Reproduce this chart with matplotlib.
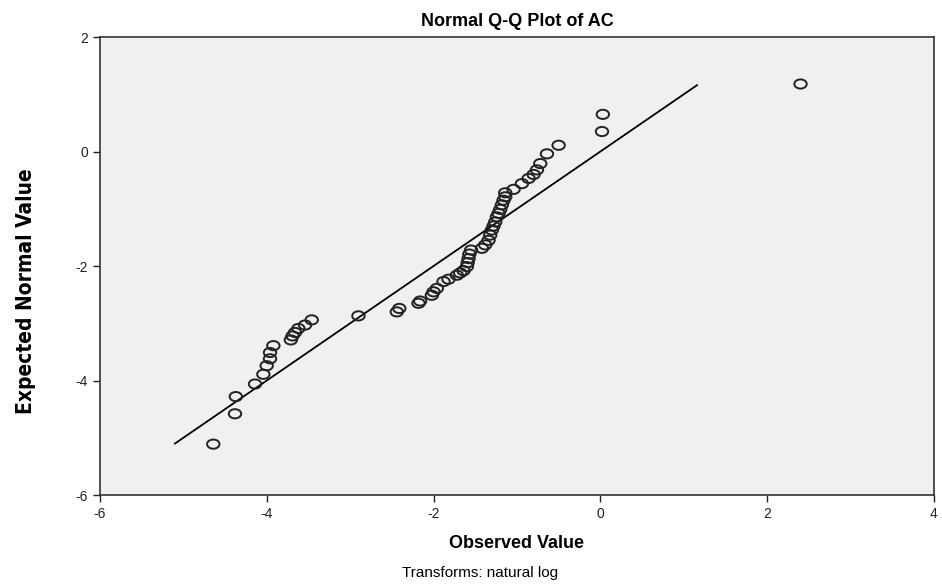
# Normal Q-Q plot (SPSS style)

import matplotlib.pyplot as plt
from matplotlib.path import Path
from matplotlib.transforms import Affine2D

# valores observados (log) e valores normais esperados
observado = [-4.64, -4.38, -4.37, -4.14, -4.04, -4.00, -3.96, -3.96, -3.92,
             -3.71, -3.69, -3.66, -3.62, -3.54, -3.46, -2.90, -2.44, -2.41,
             -2.18, -2.16, -2.02, -2.00, -1.96, -1.88, -1.82, -1.72, -1.68,
             -1.64, -1.60, -1.59, -1.58, -1.57, -1.55, -1.42, -1.38, -1.34,
             -1.32, -1.30, -1.28, -1.26, -1.24, -1.22, -1.20, -1.18, -1.16,
             -1.14, -1.14, -1.04, -0.94, -0.86, -0.80, -0.76, -0.72, -0.64,
             -0.50, 0.02, 0.03, 2.40]
esperado = [-5.11, -4.58, -4.28, -4.06, -3.89, -3.74, -3.62, -3.51, -3.39,
            -3.29, -3.22, -3.16, -3.09, -3.03, -2.94, -2.87, -2.80, -2.74,
            -2.65, -2.61, -2.51, -2.45, -2.39, -2.27, -2.23, -2.16, -2.12,
            -2.08, -2.01, -1.94, -1.87, -1.79, -1.72, -1.69, -1.63, -1.55,
            -1.46, -1.37, -1.30, -1.23, -1.14, -1.08, -1.01, -0.93, -0.85,
            -0.79, -0.72, -0.66, -0.56, -0.47, -0.40, -0.32, -0.21, -0.04,
            0.11, 0.35, 0.65, 1.18]

# linha de referencia
linha_x = [-5.1, 1.16]
linha_y = [-5.1, 1.16]

xticks = [-6, -4, -2, 0, 2, 4]
yticks = [-6, -4, -2, 0, 2]

plt.rcParams['font.family'] = ['Liberation Sans', 'DejaVu Sans']
plt.rcParams['axes.unicode_minus'] = False

fig = plt.figure(figsize=(9.42, 5.88), dpi=100)
ax = fig.add_axes([0.106, 0.158, 0.8855, 0.779])
ax.set_facecolor('#f0f0f0')

# circulo achatado (igual ao SPSS)
elipse = Path.unit_circle().transformed(Affine2D().scale(1.35, 1.0))

ax.plot(linha_x, linha_y, color='black', linewidth=1.3, zorder=2)
ax.scatter(observado, esperado, marker=elipse, s=80, facecolors='none',
           edgecolors='#222222', linewidths=1.4, zorder=3)

ax.set_xlim(-6, 4)
ax.set_ylim(-6, 2)
ax.set_xticks(xticks)
ax.set_yticks(yticks)
ax.tick_params(direction='out', length=5, width=1, labelsize=10, colors='#222222')
for s in ax.spines.values():
    s.set_color('#333333')
    s.set_linewidth(1.2)

ax.set_title("Normal Q-Q Plot of AC", fontsize=13, fontweight='bold', pad=8)
ax.set_xlabel("Observed Value", fontsize=13, fontweight='bold', labelpad=10)
ax.set_ylabel("Expected Normal Value", fontsize=15, fontweight='bold',
              family='DejaVu Sans', fontstretch='condensed')
ax.yaxis.set_label_coords(-0.077, 0.445)

fig.text(0.51, 0.018, "Transforms: natural log", ha='center', fontsize=11)

plt.savefig("out.png", dpi=100)
